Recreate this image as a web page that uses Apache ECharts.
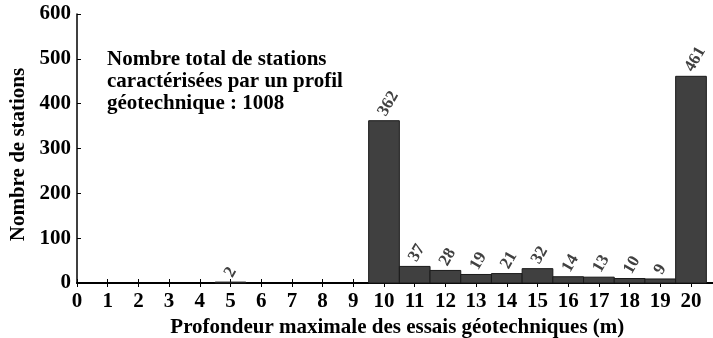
<!DOCTYPE html>
<html><head><meta charset="utf-8">
<script src="https://cdn.jsdelivr.net/npm/echarts@6/dist/echarts.min.js"></script>
<style>html,body{margin:0;padding:0;background:#fff}#c{width:713px;height:338px}</style>
</head><body><div id="c"></div>
<script>
var depths = [0,1,2,3,4,5,6,7,8,9,10,11,12,13,14,15,16,17,18,19,20];
var counts = [0,0,0,0,0,2,0,0,0,0,362,37,28,19,21,32,14,13,10,9,461];
var yTicks = [0,100,200,300,400,500,600];
var xTitle = 'Profondeur maximale des essais géotechniques (m)';
var yTitle = 'Nombre de stations';
var noteLines = ['Nombre total de stations', 'caractérisées par un profil', 'géotechnique : 1008'];

var FONT = '"Liberation Serif", "Times New Roman", serif';
var chart = echarts.init(document.getElementById('c'));
var data = depths.map(function(d,i){return [d, counts[i]];});
chart.setOption({
  animation:false,
  grid:{left:77, top:14, width:644.7, height:269, containLabel:false, outerBoundsMode:'none'},
  xAxis:[{
    type:'value', min:0, max:21, interval:1, position:'bottom',
    axisLine:{show:true, onZero:false, lineStyle:{color:'#000', width:2}},
    axisTick:{show:true, inside:true, length:4, lineStyle:{color:'#000', width:1}},
    axisLabel:{color:'#000', fontFamily:FONT, fontWeight:'bold', fontSize:21, margin:8,
      formatter:function(v){return v>20?'':String(v);}},
    splitLine:{show:false},
    name:xTitle, nameLocation:'middle', nameGap:32,
    nameTextStyle:{color:'#000', fontFamily:FONT, fontWeight:'bold', fontSize:21, padding:[0,0,0,-4]}
  },{
    type:'value', min:0, max:21, interval:1, position:'top',
    axisLine:{show:true, lineStyle:{color:'#000', width:1.5}},
    axisTick:{show:true, inside:true, length:4, lineStyle:{color:'#000', width:1}},
    axisLabel:{show:false}, splitLine:{show:false}
  }],
  yAxis:{
    type:'value', min:yTicks[0], max:yTicks[yTicks.length-1], interval:100,
    axisLine:{show:true, lineStyle:{color:'#000', width:1.5}},
    axisTick:{show:true, inside:true, length:4, lineStyle:{color:'#000', width:1}},
    axisLabel:{color:'#000', fontFamily:FONT, fontWeight:'bold', fontSize:21, margin:6},
    splitLine:{show:false},
    name:yTitle, nameLocation:'middle', nameGap:40, nameRotate:90,
    nameTextStyle:{color:'#000', fontFamily:FONT, fontWeight:'bold', fontSize:21, padding:[0,12,0,0]}
  },
  series:[{
    type:'custom', xAxisIndex:0, yAxisIndex:0, data:data,
    renderItem:function(params, api){
      var x = api.value(0), y = api.value(1);
      if (y <= 0) return null;
      var p0 = api.coord([x-0.5, y]);
      var p1 = api.coord([x+0.5, 0]);
      var cx = api.coord([x, y])[0];
      return {type:'group', children:[
        {type:'rect', shape:{x:p0[0], y:p0[1], width:p1[0]-p0[0], height:p1[1]-p0[1]},
         style:{fill:'#404040', stroke:'#1a1a1a', lineWidth:1}},
        {type:'text', x:cx-2, y:p0[1]-6, rotation:Math.PI/3,
         style:{text:String(y), fill:'#404040', font:'bold 17px '+FONT, textAlign:'left', textVerticalAlign:'middle'}}
      ]};
    }
  }],
  graphic:noteLines.map(function(t,i){
    return {type:'text', left:107, top:49+i*22, style:{text:t, fill:'#000', font:'bold 21px '+FONT}};
  })
});
</script></body></html>
